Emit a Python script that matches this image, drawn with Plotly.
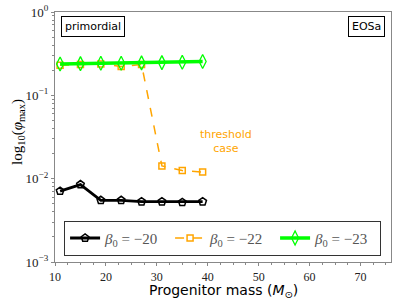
import plotly.graph_objects as go

mass = [11, 15, 19, 23, 27, 31, 35, 39]
phi_b20 = [0.0071, 0.0085, 0.0055, 0.0055, 0.0053, 0.0053, 0.0052, 0.0053]
phi_b22 = [0.230, 0.235, 0.238, 0.222, 0.235, 0.0142, 0.0125, 0.0120]
phi_b23 = [0.238, 0.240, 0.243, 0.243, 0.245, 0.247, 0.250, 0.255]
labels = ["<i>β</i><sub>0</sub> = −20", "<i>β</i><sub>0</sub> = −22", "<i>β</i><sub>0</sub> = −23"]
ytick_vals = [1e-3, 1e-2, 1e-1, 1e0]
ytick_text = ["10<sup>−3</sup>", "10<sup>−2</sup>", "10<sup>−1</sup>", "10<sup>0</sup>"]
xtick_vals = [10, 20, 30, 40, 50, 60, 70]
ymin_ticks = [m * d for d in (1e-3, 1e-2, 1e-1) for m in range(2, 10)]

serif = "Liberation Serif"
sans = "DejaVu Sans"

fig = go.Figure()
fig.add_trace(go.Scatter(x=mass, y=phi_b20, mode="lines+markers", name=labels[0],
                         line=dict(color="black", width=2.8),
                         marker=dict(symbol="pentagon-open", size=8, color="black", line=dict(width=1.5))))
fig.add_trace(go.Scatter(x=mass, y=phi_b22, mode="lines+markers", name=labels[1],
                         line=dict(color="#FFA500", width=1.5, dash="dash"),
                         marker=dict(symbol="square-open", size=6, color="#FFA500", line=dict(width=1.5))))
fig.add_trace(go.Scatter(x=mass, y=phi_b23, mode="lines+markers", name=labels[2],
                         line=dict(color="#00FF00", width=3.5),
                         marker=dict(symbol="diamond-tall-open", size=10, color="#00FF00", line=dict(width=1.3))))

fig.update_layout(
    width=399, height=299,
    margin=dict(l=55, r=8, t=12, b=37),
    paper_bgcolor="white", plot_bgcolor="white",
    showlegend=True,
    legend=dict(orientation="h", x=0.027, y=0.025, xanchor="left", yanchor="bottom",
                bordercolor="#333", borderwidth=1, bgcolor="white",
                font=dict(family=serif, size=15, color="#555"),
                entrywidth=60, itemwidth=30, tracegroupgap=0),
    annotations=[
        dict(text="primordial", xref="paper", yref="paper", x=0.018, y=0.984,
             xanchor="left", yanchor="top", showarrow=False,
             font=dict(family=sans, size=11, color="black"),
             bordercolor="black", borderwidth=1, borderpad=3, bgcolor="white"),
        dict(text="EOSa", xref="paper", yref="paper", x=0.982, y=0.984,
             xanchor="right", yanchor="top", showarrow=False,
             font=dict(family=sans, size=11, color="black"),
             bordercolor="black", borderwidth=1, borderpad=3, bgcolor="white"),
        dict(text="threshold<br>case", x=43.6, y=-1.553, xref="x", yref="y",
             showarrow=False, font=dict(family=sans, size=11, color="#FFA500")),
        dict(text="Progenitor mass (<i>M</i><sub>⊙</sub>)", xref="paper", yref="paper",
             x=0.5, y=-0.114, xanchor="center", yanchor="middle", showarrow=False,
             font=dict(family=sans, size=14, color="black")),
        dict(text="log<sub>10</sub>(<i>φ</i><sub>max</sub>)", xref="paper", yref="paper",
             x=-0.11, y=0.52, xanchor="center", yanchor="middle", showarrow=False,
             textangle=-90, font=dict(family=serif, size=15, color="black")),
    ],
)
fig.update_xaxes(range=[10, 76], tickvals=xtick_vals, ticks="outside", ticklen=3,
                 tickcolor="#888", linecolor="#888", linewidth=1.2, mirror=True,
                 showgrid=False, zeroline=False, automargin=False,
                 tickfont=dict(family=serif, size=12, color="#222"),
                 minor=dict(dtick=2.5, ticks="outside", ticklen=2, tickcolor="#888"))
fig.update_yaxes(type="log", range=[-3, 0], tickvals=ytick_vals, ticktext=ytick_text,
                 ticks="outside", ticklen=3, tickcolor="#888", linecolor="#888", linewidth=1.2,
                 mirror=True, showgrid=False, zeroline=False, automargin=False,
                 tickfont=dict(family=serif, size=13, color="#222"),
                 minor=dict(tickvals=ymin_ticks, ticks="outside", ticklen=2, tickcolor="#888",
                            showgrid=False))

fig.write_html("out.html", post_script="document.body.style.margin='0';",
               config={"displayModeBar": False})
